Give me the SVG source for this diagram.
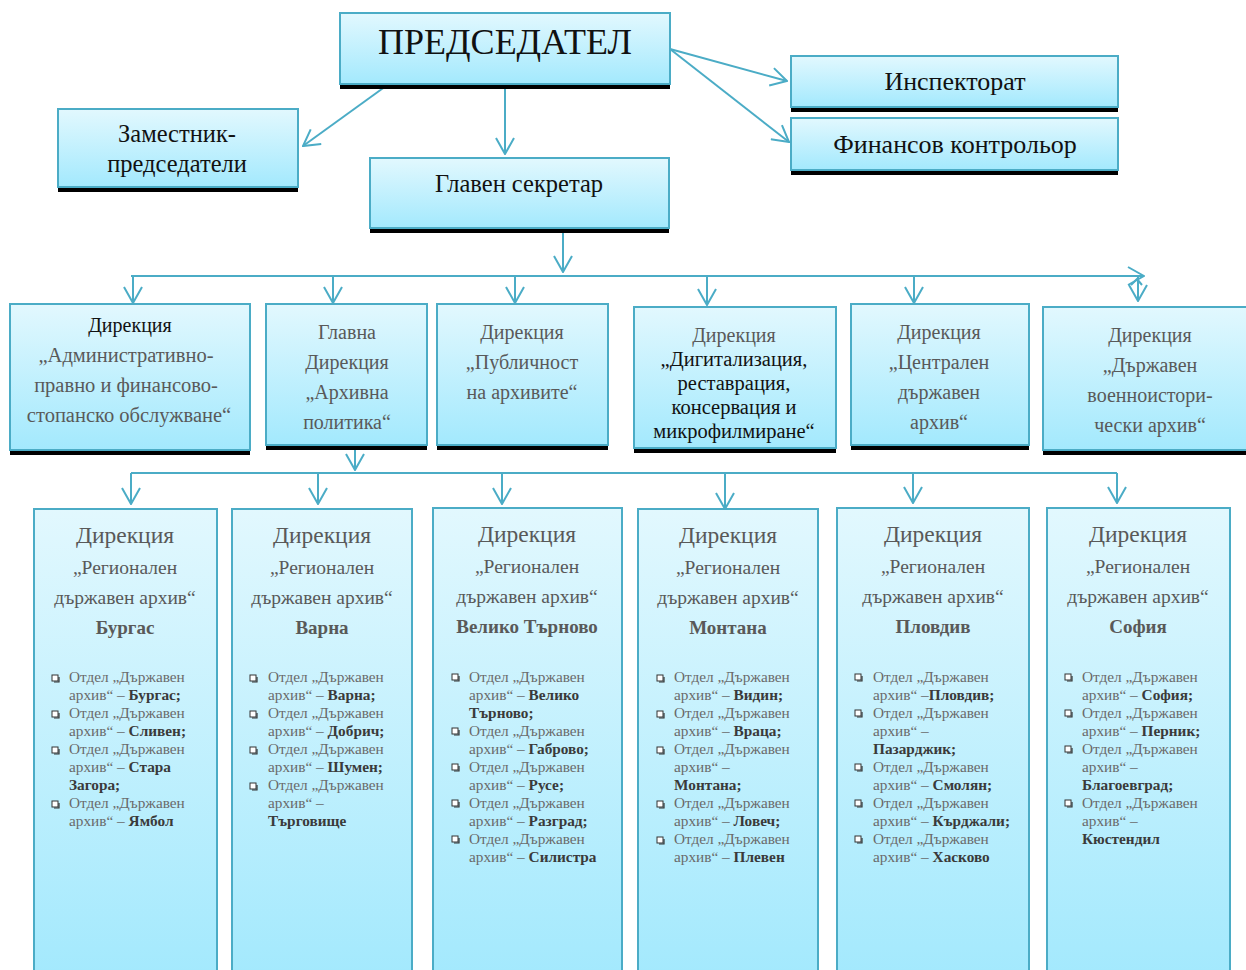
<svg xmlns="http://www.w3.org/2000/svg" width="1246" height="970" viewBox="0 0 1246 970">
<defs>
<linearGradient id="g" x1="0" y1="0" x2="0" y2="1">
<stop offset="0" stop-color="#e2f8fe"/>
<stop offset="1" stop-color="#a3e9fd"/>
</linearGradient>
<marker id="a" viewBox="0 0 18 20" refX="17" refY="10" markerWidth="18" markerHeight="20" markerUnits="userSpaceOnUse" orient="auto">
<path d="M1,1 L17,10 L1,19" fill="none" stroke="#4bacc6" stroke-width="2"/>
</marker>
<g id="bul"><rect x="0" y="0" width="6" height="6" fill="#fff" stroke="#333" stroke-width="1"/><path d="M2,7 H7 V2" fill="none" stroke="#333" stroke-width="1.2"/></g>
</defs>
<style>
.box{fill:url(#g);stroke:#4bacc6;stroke-width:2}
.sh{fill:#000}
.t{font-family:"Liberation Serif","DejaVu Serif",serif;text-anchor:middle}
.k{fill:#111}
.gy{fill:#595959}
.b{font-family:"Liberation Serif","DejaVu Serif",serif;font-size:15.3px;fill:#6a6a6a}
.bb{font-weight:bold;fill:#3a3a3a}
.c{fill:none;stroke:#4bacc6;stroke-width:2}
</style>
<rect width="1246" height="970" fill="#fff"/>

<g id="connectors">
<line class="c" x1="386" y1="86" x2="303" y2="146" marker-end="url(#a)"/>
<line class="c" x1="505" y1="86" x2="505" y2="154" marker-end="url(#a)"/>
<line class="c" x1="670" y1="49" x2="787" y2="81" marker-end="url(#a)"/>
<line class="c" x1="670" y1="49" x2="789" y2="142" marker-end="url(#a)"/>
<line class="c" x1="563" y1="233" x2="563" y2="272" marker-end="url(#a)"/>
<line class="c" x1="131" y1="276" x2="1144" y2="276" marker-end="url(#a)"/>
<line class="c" x1="133" y1="276" x2="133" y2="303" marker-end="url(#a)"/>
<line class="c" x1="333" y1="276" x2="333" y2="303" marker-end="url(#a)"/>
<line class="c" x1="515" y1="276" x2="515" y2="303" marker-end="url(#a)"/>
<line class="c" x1="707" y1="276" x2="707" y2="305" marker-end="url(#a)"/>
<line class="c" x1="914" y1="276" x2="914" y2="303" marker-end="url(#a)"/>
<line class="c" x1="1138" y1="276" x2="1138" y2="301" marker-end="url(#a)"/>
<path class="c" d="M1131,285 L1137,279 L1142,285"/>
<line class="c" x1="355" y1="446" x2="355" y2="470" marker-end="url(#a)"/>
<line class="c" x1="131" y1="473" x2="1117" y2="473"/>
<line class="c" x1="131" y1="473" x2="131" y2="504" marker-end="url(#a)"/>
<line class="c" x1="318" y1="473" x2="318" y2="504" marker-end="url(#a)"/>
<line class="c" x1="502" y1="473" x2="502" y2="504" marker-end="url(#a)"/>
<line class="c" x1="725" y1="473" x2="725" y2="509" marker-end="url(#a)"/>
<line class="c" x1="913" y1="473" x2="913" y2="503" marker-end="url(#a)"/>
<line class="c" x1="1117" y1="473" x2="1117" y2="503" marker-end="url(#a)"/>
</g>

<g id="n-predsedatel">
<rect class="sh" x="340" y="84" width="330" height="5"/>
<rect class="box" x="340" y="13" width="330" height="71"/>
<text class="t k" x="505" y="54" font-size="36">ПРЕДСЕДАТЕЛ</text>
</g>
<g id="n-zam">
<rect class="sh" x="58" y="187" width="240" height="5"/>
<rect class="box" x="58" y="109" width="240" height="78"/>
<text class="t k" x="177" y="142" font-size="24.5">Заместник-</text>
<text class="t k" x="177" y="172" font-size="24.5">председатели</text>
</g>
<g id="n-sekretar">
<rect class="sh" x="370" y="228" width="299" height="5"/>
<rect class="box" x="370" y="158" width="299" height="70"/>
<text class="t k" x="519" y="192" font-size="24.5">Главен секретар</text>
</g>
<g id="n-inspektorat">
<rect class="sh" x="791" y="107" width="327" height="5"/>
<rect class="box" x="791" y="56" width="327" height="51"/>
<text class="t k" x="955" y="90" font-size="26">Инспекторат</text>
</g>
<g id="n-finansov">
<rect class="sh" x="791" y="170" width="327" height="5"/>
<rect class="box" x="791" y="118" width="327" height="52"/>
<text class="t k" x="955" y="153" font-size="26">Финансов контрольор</text>
</g>

<g id="n-d1">
<rect class="sh" x="10" y="450" width="240" height="5"/>
<rect class="box" x="10" y="304" width="240" height="146"/>
<text class="t k" x="130" y="332" font-size="20">Дирекция</text>
<text class="t gy" x="126" y="362" font-size="20.5">„Административно-</text>
<text class="t gy" x="126" y="392" font-size="20.5">правно и финансово-</text>
<text class="t gy" x="129" y="422" font-size="20.5">стопанско обслужване“</text>
</g>
<g id="n-d2">
<rect class="sh" x="266" y="445" width="161" height="5"/>
<rect class="box" x="266" y="304" width="161" height="141"/>
<text class="t gy" x="347" y="339" font-size="20">Главна</text>
<text class="t gy" x="347" y="369" font-size="20">Дирекция</text>
<text class="t gy" x="347" y="399" font-size="20">„Архивна</text>
<text class="t gy" x="347" y="429" font-size="20">политика“</text>
</g>
<g id="n-d3">
<rect class="sh" x="437" y="445" width="171" height="5"/>
<rect class="box" x="437" y="304" width="171" height="141"/>
<text class="t gy" x="522" y="339" font-size="20">Дирекция</text>
<text class="t gy" x="522" y="369" font-size="20">„Публичност</text>
<text class="t gy" x="522" y="399" font-size="20">на архивите“</text>
</g>
<g id="n-d4">
<rect class="sh" x="634" y="448" width="202" height="5"/>
<rect class="box" x="634" y="307" width="202" height="141"/>
<text class="t gy" x="734" y="342" font-size="20">Дирекция</text>
<text class="t k" x="734" y="366" font-size="20.5">„Дигитализация,</text>
<text class="t k" x="734" y="390" font-size="20.5">реставрация,</text>
<text class="t k" x="734" y="414" font-size="20.5">консервация и</text>
<text class="t k" x="734" y="438" font-size="20.5">микрофилмиране“</text>
</g>
<g id="n-d5">
<rect class="sh" x="851" y="445" width="178" height="5"/>
<rect class="box" x="851" y="304" width="178" height="141"/>
<text class="t gy" x="939" y="339" font-size="20">Дирекция</text>
<text class="t gy" x="939" y="369" font-size="20">„Централен</text>
<text class="t gy" x="939" y="399" font-size="20">държавен</text>
<text class="t gy" x="939" y="429" font-size="20">архив“</text>
</g>
<g id="n-d6">
<rect class="sh" x="1043" y="450" width="210" height="5"/>
<rect class="box" x="1043" y="307" width="210" height="143"/>
<text class="t gy" x="1150" y="342" font-size="20">Дирекция</text>
<text class="t gy" x="1150" y="372" font-size="20">„Държавен</text>
<text class="t gy" x="1150" y="402" font-size="20">военноистори-</text>
<text class="t gy" x="1150" y="432" font-size="20">чески архив“</text>
</g>

<g id="n-burgas">
<rect class="box" x="34" y="509" width="183" height="470"/>
<text class="t gy" x="125" y="543" font-size="23.5">Дирекция</text>
<text class="t gy" x="125" y="574" font-size="19.5">„Регионален</text>
<text class="t gy" x="125" y="604" font-size="19.5">държавен архив“</text>
<text class="t gy" x="125" y="634" font-size="19" font-weight="bold" fill="#3a3a3a">Бургас</text>
<use href="#bul" x="52" y="675"/><use href="#bul" x="52" y="711"/><use href="#bul" x="52" y="747"/><use href="#bul" x="52" y="801"/>
<text class="b" x="69" y="682">Отдел „Държавен</text>
<text class="b" x="69" y="700">архив“ – <tspan class="bb">Бургас;</tspan></text>
<text class="b" x="69" y="718">Отдел „Държавен</text>
<text class="b" x="69" y="736">архив“ – <tspan class="bb">Сливен;</tspan></text>
<text class="b" x="69" y="754">Отдел „Държавен</text>
<text class="b" x="69" y="772">архив“ – <tspan class="bb">Стара</tspan></text>
<text class="b" x="69" y="790"><tspan class="bb">Загора;</tspan></text>
<text class="b" x="69" y="808">Отдел „Държавен</text>
<text class="b" x="69" y="826">архив“ – <tspan class="bb">Ямбол</tspan></text>
</g>
<g id="n-varna">
<rect class="box" x="232" y="509" width="180" height="470"/>
<text class="t gy" x="322" y="543" font-size="23.5">Дирекция</text>
<text class="t gy" x="322" y="574" font-size="19.5">„Регионален</text>
<text class="t gy" x="322" y="604" font-size="19.5">държавен архив“</text>
<text class="t gy" x="322" y="634" font-size="19" font-weight="bold" fill="#3a3a3a">Варна</text>
<use href="#bul" x="250" y="675"/><use href="#bul" x="250" y="711"/><use href="#bul" x="250" y="747"/><use href="#bul" x="250" y="783"/>
<text class="b" x="268" y="682">Отдел „Държавен</text>
<text class="b" x="268" y="700">архив“ – <tspan class="bb">Варна;</tspan></text>
<text class="b" x="268" y="718">Отдел „Държавен</text>
<text class="b" x="268" y="736">архив“ – <tspan class="bb">Добрич;</tspan></text>
<text class="b" x="268" y="754">Отдел „Държавен</text>
<text class="b" x="268" y="772">архив“ – <tspan class="bb">Шумен;</tspan></text>
<text class="b" x="268" y="790">Отдел „Държавен</text>
<text class="b" x="268" y="808">архив“ –</text>
<text class="b" x="268" y="826"><tspan class="bb">Търговище</tspan></text>
</g>
<g id="n-vtarnovo">
<rect class="box" x="433" y="508" width="189" height="470"/>
<text class="t gy" x="527" y="542" font-size="23.5">Дирекция</text>
<text class="t gy" x="527" y="573" font-size="19.5">„Регионален</text>
<text class="t gy" x="527" y="603" font-size="19.5">държавен архив“</text>
<text class="t gy" x="527" y="633" font-size="19" font-weight="bold" fill="#3a3a3a">Велико Търново</text>
<use href="#bul" x="452" y="674"/><use href="#bul" x="452" y="728"/><use href="#bul" x="452" y="764"/><use href="#bul" x="452" y="800"/><use href="#bul" x="452" y="836"/>
<text class="b" x="469" y="682">Отдел „Държавен</text>
<text class="b" x="469" y="700">архив“ – <tspan class="bb">Велико</tspan></text>
<text class="b" x="469" y="718"><tspan class="bb">Търново;</tspan></text>
<text class="b" x="469" y="736">Отдел „Държавен</text>
<text class="b" x="469" y="754">архив“ – <tspan class="bb">Габрово;</tspan></text>
<text class="b" x="469" y="772">Отдел „Държавен</text>
<text class="b" x="469" y="790">архив“ – <tspan class="bb">Русе;</tspan></text>
<text class="b" x="469" y="808">Отдел „Държавен</text>
<text class="b" x="469" y="826">архив“ – <tspan class="bb">Разград;</tspan></text>
<text class="b" x="469" y="844">Отдел „Държавен</text>
<text class="b" x="469" y="862">архив“ – <tspan class="bb">Силистра</tspan></text>
</g>
<g id="n-montana">
<rect class="box" x="638" y="509" width="180" height="470"/>
<text class="t gy" x="728" y="543" font-size="23.5">Дирекция</text>
<text class="t gy" x="728" y="574" font-size="19.5">„Регионален</text>
<text class="t gy" x="728" y="604" font-size="19.5">държавен архив“</text>
<text class="t gy" x="728" y="634" font-size="19" font-weight="bold" fill="#3a3a3a">Монтана</text>
<use href="#bul" x="657" y="675"/><use href="#bul" x="657" y="711"/><use href="#bul" x="657" y="747"/><use href="#bul" x="657" y="801"/><use href="#bul" x="657" y="837"/>
<text class="b" x="674" y="682">Отдел „Държавен</text>
<text class="b" x="674" y="700">архив“ – <tspan class="bb">Видин;</tspan></text>
<text class="b" x="674" y="718">Отдел „Държавен</text>
<text class="b" x="674" y="736">архив“ – <tspan class="bb">Враца;</tspan></text>
<text class="b" x="674" y="754">Отдел „Държавен</text>
<text class="b" x="674" y="772">архив“ –</text>
<text class="b" x="674" y="790"><tspan class="bb">Монтана;</tspan></text>
<text class="b" x="674" y="808">Отдел „Държавен</text>
<text class="b" x="674" y="826">архив“ – <tspan class="bb">Ловеч;</tspan></text>
<text class="b" x="674" y="844">Отдел „Държавен</text>
<text class="b" x="674" y="862">архив“ – <tspan class="bb">Плевен</tspan></text>
</g>
<g id="n-plovdiv">
<rect class="box" x="837" y="508" width="192" height="470"/>
<text class="t gy" x="933" y="542" font-size="23.5">Дирекция</text>
<text class="t gy" x="933" y="573" font-size="19.5">„Регионален</text>
<text class="t gy" x="933" y="603" font-size="19.5">държавен архив“</text>
<text class="t gy" x="933" y="633" font-size="19" font-weight="bold" fill="#3a3a3a">Пловдив</text>
<use href="#bul" x="855" y="674"/><use href="#bul" x="855" y="710"/><use href="#bul" x="855" y="764"/><use href="#bul" x="855" y="800"/><use href="#bul" x="855" y="836"/>
<text class="b" x="873" y="682">Отдел „Държавен</text>
<text class="b" x="873" y="700">архив“ –<tspan class="bb">Пловдив;</tspan></text>
<text class="b" x="873" y="718">Отдел „Държавен</text>
<text class="b" x="873" y="736">архив“ –</text>
<text class="b" x="873" y="754"><tspan class="bb">Пазарджик;</tspan></text>
<text class="b" x="873" y="772">Отдел „Държавен</text>
<text class="b" x="873" y="790">архив“ – <tspan class="bb">Смолян;</tspan></text>
<text class="b" x="873" y="808">Отдел „Държавен</text>
<text class="b" x="873" y="826">архив“ – <tspan class="bb">Кърджали;</tspan></text>
<text class="b" x="873" y="844">Отдел „Държавен</text>
<text class="b" x="873" y="862">архив“ – <tspan class="bb">Хасково</tspan></text>
</g>
<g id="n-sofia">
<rect class="box" x="1047" y="508" width="183" height="470"/>
<text class="t gy" x="1138" y="542" font-size="23.5">Дирекция</text>
<text class="t gy" x="1138" y="573" font-size="19.5">„Регионален</text>
<text class="t gy" x="1138" y="603" font-size="19.5">държавен архив“</text>
<text class="t gy" x="1138" y="633" font-size="19" font-weight="bold" fill="#3a3a3a">София</text>
<use href="#bul" x="1065" y="674"/><use href="#bul" x="1065" y="710"/><use href="#bul" x="1065" y="746"/><use href="#bul" x="1065" y="800"/>
<text class="b" x="1082" y="682">Отдел „Държавен</text>
<text class="b" x="1082" y="700">архив“ – <tspan class="bb">София;</tspan></text>
<text class="b" x="1082" y="718">Отдел „Държавен</text>
<text class="b" x="1082" y="736">архив“ – <tspan class="bb">Перник;</tspan></text>
<text class="b" x="1082" y="754">Отдел „Държавен</text>
<text class="b" x="1082" y="772">архив“ –</text>
<text class="b" x="1082" y="790"><tspan class="bb">Благоевград;</tspan></text>
<text class="b" x="1082" y="808">Отдел „Държавен</text>
<text class="b" x="1082" y="826">архив“ –</text>
<text class="b" x="1082" y="844"><tspan class="bb">Кюстендил</tspan></text>
</g>
</svg>
